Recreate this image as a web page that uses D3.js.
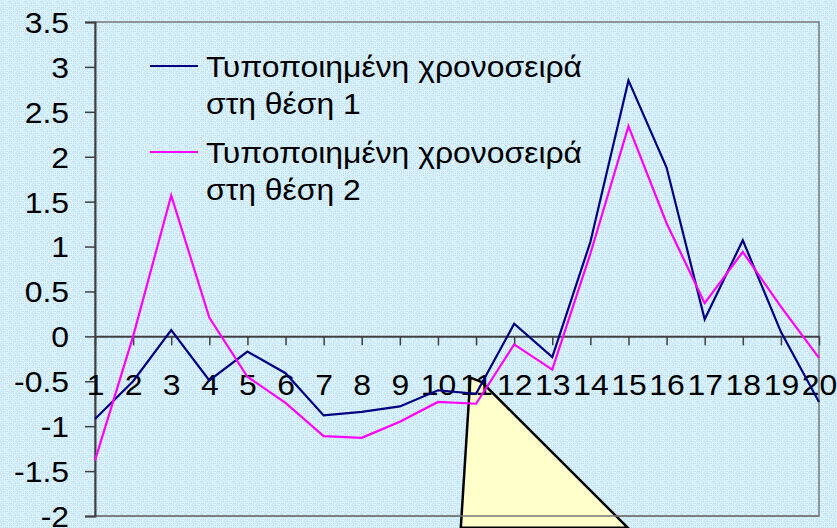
<!DOCTYPE html>
<html><head><meta charset="utf-8">
<script src="https://cdn.jsdelivr.net/npm/d3@7"></script>
<style>html,body{margin:0;padding:0;background:#cde9f6;}svg{display:block;}</style>
</head><body>
<svg id="chart" width="837" height="528"></svg>
<script>
const categories = ["1","2","3","4","5","6","7","8","9","10","11","12","13","14","15","16","17","18","19","20"];
const series1 = [-0.92,-0.50,0.07,-0.49,-0.17,-0.41,-0.88,-0.84,-0.78,-0.60,-0.64,0.14,-0.23,1.05,2.85,1.88,0.19,1.07,0.05,-0.73];
const series2 = [-1.38,0.00,1.57,0.21,-0.45,-0.74,-1.11,-1.13,-0.95,-0.73,-0.75,-0.09,-0.37,0.92,2.34,1.26,0.37,0.94,0.33,-0.24];
const seriesNames = ["Τυποποιημένη χρονοσειρά στη θέση 1","Τυποποιημένη χρονοσειρά στη θέση 2"];
const seriesColors = ["#000080","#ff00ff"];
const yTicks = [3.5,3,2.5,2,1.5,1,0.5,0,-0.5,-1,-1.5,-2];
// callout pointer (annotation) in data units: [category index (1-based), value]
const callout = [[10.85,-0.46],[11.15,-0.51],[14.98,-2.13],[10.6,-2.13]];

const svg = d3.select("#chart");
const W = 837, H = 528;
const m = {left:95, right:18, top:22, bottom:12};
const FONT = "'Liberation Sans', Arial, sans-serif";
const FS = 29, SX = 1.1;

// textured background
const defs = svg.append("defs");
const pat = defs.append("pattern").attr("id","tex").attr("patternUnits","userSpaceOnUse").attr("width",16).attr("height",16);
const pal = ["#d6effa","#c2e5f5","#e4f5fc","#b6ddf0","#cbe9f6","#d0ecf8"];
for(let i=0;i<16;i++){for(let j=0;j<16;j++){
  const h = ((i*73 + j*151 + (i*j)*37) ^ (i*11+j*5)) % pal.length;
  pat.append("rect").attr("x",i).attr("y",j).attr("width",1).attr("height",1).attr("fill",pal[(h+pal.length)%pal.length]);
}}
svg.append("rect").attr("width",W).attr("height",H).attr("fill","url(#tex)");

const x = d3.scalePoint().domain(categories).range([m.left, W-m.right]).padding(0);
const xLin = d3.scaleLinear().domain([1,20]).range([m.left, W-m.right]);
const y = d3.scaleLinear().domain([-2,3.5]).range([H-m.bottom, m.top]);

// plot border
svg.append("rect").attr("x",m.left).attr("y",m.top).attr("width",W-m.right-m.left).attr("height",H-m.bottom-m.top)
  .attr("fill","none").attr("stroke","#777").attr("stroke-width",1.5);

// callout triangle
svg.append("polygon").attr("points", callout.map(p=>[xLin(p[0]), y(p[1])].join(",")).join(" "))
  .attr("fill","#ffffcc").attr("stroke","#000").attr("stroke-width",2.5).attr("stroke-linejoin","miter");
svg.append("line").attr("x1",m.left).attr("x2",W-m.right).attr("y1",y(-2)).attr("y2",y(-2)).attr("stroke","#777").attr("stroke-width",1.5);

// Y axis
const yAxis = d3.axisLeft(y).tickValues(yTicks).tickSize(10).tickFormat(d=>String(d));
const gy = svg.append("g").attr("transform",`translate(${m.left},0)`).call(yAxis);
gy.select(".domain").attr("stroke","#404040").attr("stroke-width",2);
gy.selectAll(".tick line").attr("stroke","#404040").attr("stroke-width",1.5);
gy.selectAll(".tick text").attr("x",-26/SX).attr("dy","0.36em").attr("transform",`scale(${SX},1)`)
  .attr("font-family",FONT).attr("font-size",FS).attr("fill","#000");

// X axis at zero
const xAxis = d3.axisBottom(x).tickSize(9).tickSizeOuter(0);
const gx = svg.append("g").attr("transform",`translate(0,${y(0)})`).call(xAxis);
gx.select(".domain").attr("stroke","#404040").attr("stroke-width",2);
gx.selectAll(".tick line").attr("stroke","#404040").attr("stroke-width",1.5);
gx.selectAll(".tick text").attr("y",59).attr("dy",0).attr("transform",`scale(${SX},1)`)
  .attr("font-family",FONT).attr("font-size",FS).attr("fill","#000");

// lines
const line = d3.line().x((d,i)=>x(categories[i])).y(d=>y(d));
[series1, series2].forEach((s,k)=>{
  svg.append("path").datum(s).attr("d",line).attr("fill","none").attr("stroke",seriesColors[k]).attr("stroke-width",2.2).attr("stroke-linejoin","miter");
});

// legend
const leg = svg.append("g").attr("font-family",FONT).attr("font-size",FS).attr("fill","#000");
const legBase = [76.5, 162.5];
seriesNames.forEach((name,k)=>{
  const b = legBase[k];
  leg.append("line").attr("x1",150).attr("x2",198).attr("y1",b-10.5).attr("y2",b-10.5).attr("stroke",seriesColors[k]).attr("stroke-width",2.2);
  const words = name.split(" ");
  const t = leg.append("g").attr("transform",`translate(206,${b}) scale(${SX},1)`);
  t.append("text").attr("x",0).attr("y",0).text(words.slice(0,2).join(" "));
  t.append("text").attr("x",0).attr("y",37.5).text(words.slice(2).join(" "));
});
</script>
</body></html>
